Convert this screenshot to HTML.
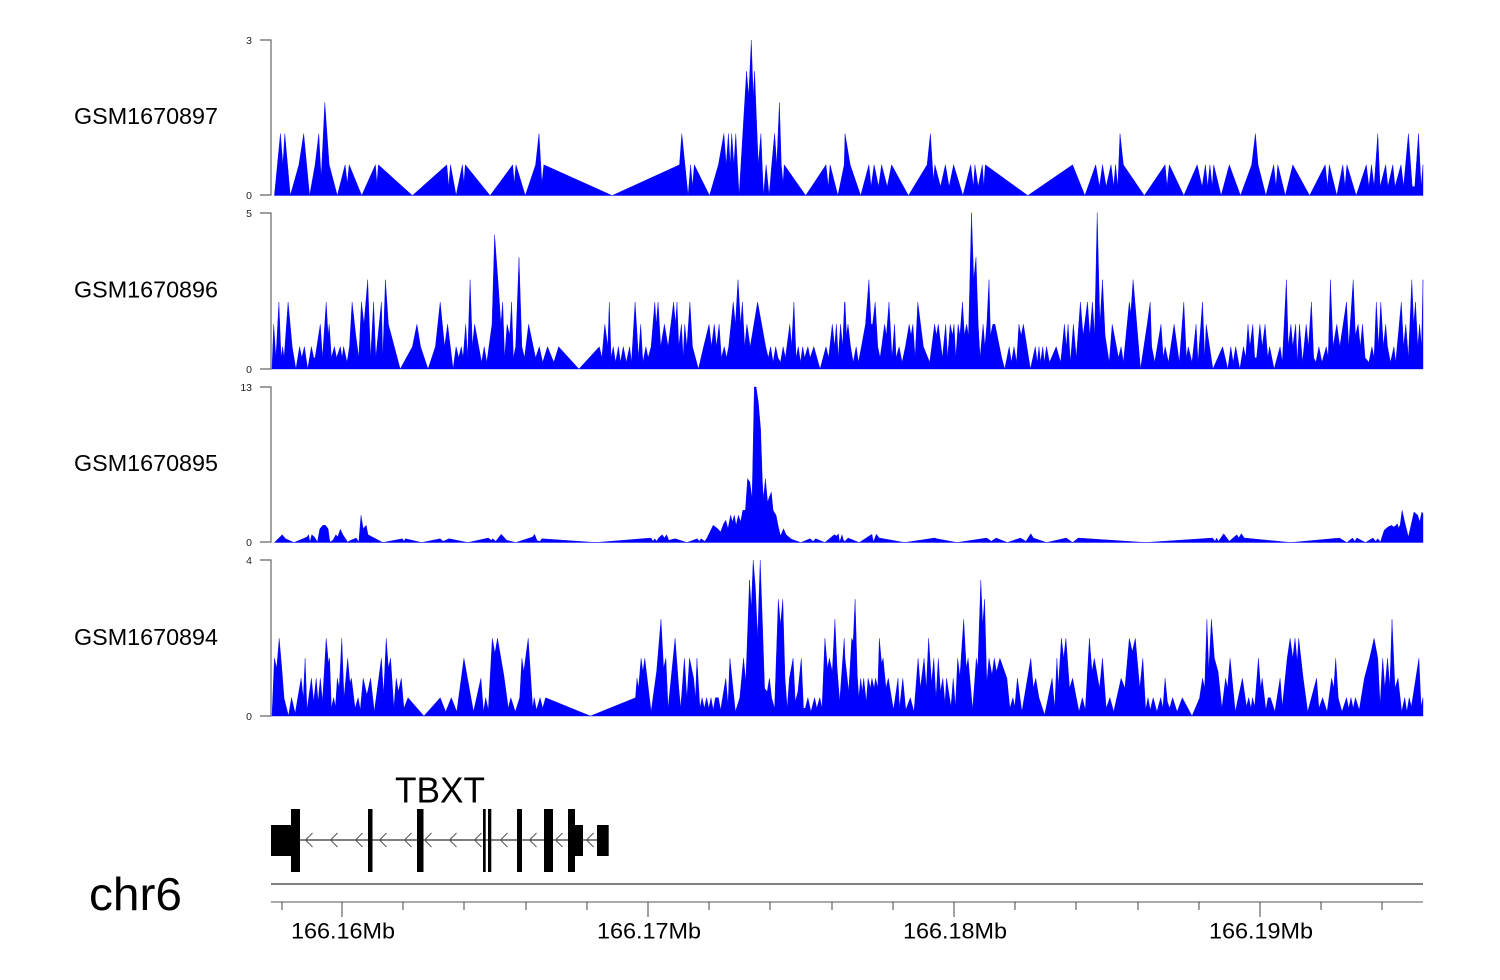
<!DOCTYPE html>
<html><head><meta charset="utf-8">
<style>
html,body{margin:0;padding:0;background:#fff;}
svg{display:block;}
text{font-family:"Liberation Sans",Arial,sans-serif;}
</style></head>
<body>
<svg id="s" width="1500" height="980" viewBox="0 0 1500 980" xmlns="http://www.w3.org/2000/svg">
<rect x="0" y="0" width="1500" height="980" fill="#fff"/>
<g id="tracks"></g>
<!-- track labels -->
<text x="74" y="124" font-size="23" textLength="144" lengthAdjust="spacingAndGlyphs" fill="#000">GSM1670897</text>
<text x="74" y="297.5" font-size="23" textLength="144" lengthAdjust="spacingAndGlyphs" fill="#000">GSM1670896</text>
<text x="74" y="471" font-size="23" textLength="144" lengthAdjust="spacingAndGlyphs" fill="#000">GSM1670895</text>
<text x="74" y="645" font-size="23" textLength="144" lengthAdjust="spacingAndGlyphs" fill="#000">GSM1670894</text>
<!-- y axes -->
<g stroke="#666" stroke-width="1.2" fill="none">
<polyline points="260,40 271,40 271,195 260,195"/>
<polyline points="260,213 271,213 271,369 260,369"/>
<polyline points="260,387 271,387 271,542 260,542"/>
<polyline points="260,560 271,560 271,716 260,716"/>
</g>
<g font-size="10.5" fill="#222" text-anchor="end">
<text x="252" y="44">3</text><text x="252" y="199">0</text>
<text x="252" y="217">5</text><text x="252" y="373">0</text>
<text x="252" y="391">13</text><text x="252" y="546">0</text>
<text x="252" y="564">4</text><text x="252" y="720">0</text>
</g>
<!-- gene model -->
<text x="440" y="802.5" font-size="36" text-anchor="middle" textLength="90" lengthAdjust="spacingAndGlyphs" fill="#000">TBXT</text>
<line x1="291" y1="840" x2="600" y2="840" stroke="#000" stroke-width="1"/>
<g id="chev" stroke="#555" stroke-width="1" fill="none"></g>
<g fill="#000">
<rect x="271" y="825" width="20" height="31"/>
<rect x="291" y="809" width="9" height="63"/>
<rect x="368" y="809" width="4.5" height="63"/>
<rect x="417" y="809" width="6.5" height="63"/>
<rect x="483" y="809" width="2.7" height="63"/>
<rect x="488" y="809" width="3.3" height="63"/>
<rect x="517" y="809" width="5" height="63"/>
<rect x="544" y="809" width="9" height="63"/>
<rect x="568" y="809" width="7" height="63"/>
<rect x="575" y="825" width="8" height="31"/>
<rect x="597" y="825" width="11.7" height="31"/>
</g>
<!-- chromosome line and axis -->
<line x1="271" y1="884" x2="1423" y2="884" stroke="#333" stroke-width="1.3"/>
<line x1="271" y1="902" x2="1423" y2="902" stroke="#777" stroke-width="1.2"/>
<g id="ticks" stroke="#444" stroke-width="1"></g>
<g font-size="22" fill="#000" text-anchor="middle">
<text x="343" y="938.5" textLength="104" lengthAdjust="spacingAndGlyphs">166.16Mb</text>
<text x="649" y="938.5" textLength="104" lengthAdjust="spacingAndGlyphs">166.17Mb</text>
<text x="955" y="938.5" textLength="104" lengthAdjust="spacingAndGlyphs">166.18Mb</text>
<text x="1261" y="938.5" textLength="104" lengthAdjust="spacingAndGlyphs">166.19Mb</text>
</g>
<text x="89" y="910" font-size="46" textLength="93" lengthAdjust="spacingAndGlyphs" fill="#000">chr6</text>
</svg>
<script>
(function(){
var NS="http://www.w3.org/2000/svg";
function lv(arr,unit){return arr.map(function(p){return [p[0],483-unit*p[1]];});}
var t1A=lv([[12,0],[28,2],[35,1],[40,2],[55,0],[78,1],[91,2],[107,0],[122,1],[132,2],[138,0.6],[140,1],[148,3],[160,1],[182,0],[203,1],[209,0.4],[214,1],[248,0],[285,1],[289,0.4],[293,1],[385,0],[478,1],[483,0.3],[488,1],[503,0],[520,1],[524,0.4],[528,1],[595,0],[656,1],[660,0.4],[665,1],[690,0],[718,1],[727,2],[735,0.4],[740,1],[925,0],[1107,1],[1113,2],[1130,0],[1137,1],[1142,0.3],[1147,1],[1188,0],[1212,1],[1227,2],[1233,1],[1239,2],[1244,1],[1248,2],[1254,1],[1259,2],[1268,0],[1288,4],[1294,3.2],[1301,5],[1306,3.2],[1310,4],[1320,1],[1327,2],[1334,0],[1341,1],[1349,0],[1356,1],[1364,2],[1370,1],[1377,3],[1382,1],[1387,0.4],[1390,1],[1448,0],[1503,1],[1509,0.3],[1514,1],[1535,0],[1552,1],[1558,2],[1568,1]],93.6);
var t1B=lv([[0,2],[14,1],[42,0],[64,1],[70,0.3],[78,1],[90,0.3],[98,1],[113,0.3],[125,1],[170,0],[220,1],[229,2],[237,0.5],[241,1],[256,0.3],[269,1],[279,0.3],[291,1],[316,0],[337,1],[344,0.3],[348,1],[357,0.3],[368,1],[372,0.3],[376,1],[490,0],[610,1],[643,0],[672,1],[682,0.3],[690,1],[700,0.3],[713,1],[720,0.3],[725,1],[731,0.3],[737,2],[746,1],[802,0],[858,1],[863,0.3],[869,1],[908,0],[944,1],[957,0.3],[966,1],[972,0.3],[978,1],[984,0.3],[988,1],[1008,0],[1030,1],[1060,0],[1090,1],[1100,2],[1107,1],[1128,0],[1149,1],[1155,0.3],[1160,1],[1180,0],[1200,1],[1245,0],[1287,1],[1293,0.3],[1298,1],[1318,0],[1334,1],[1340,0.3],[1345,1],[1370,0],[1397,1],[1404,0.3],[1411,1],[1418,0.3],[1428,2],[1434,0.3],[1449,1],[1455,0.3],[1468,1],[1474,0.3],[1490,1],[1497,0.3],[1510,2],[1520,0.3],[1527,0.3],[1537,2],[1544,0.3],[1549,1]],93.6);
var t2A=lv([[3,0],[10,2],[16,0.5],[24,3],[30,0.5],[34,1],[38,0.5],[49,3],[60,1],[70,0],[80,1],[86,0.5],[93,1],[102,0],[112,1],[118,0.5],[122,0.5],[136,2],[142,0.5],[152,3],[157,1.5],[160,2],[166,0.5],[174,1],[180,0.5],[190,1],[195,0.5],[199,1],[208,0.3],[215,1],[222,3],[232,1.5],[240,0.5],[247,3],[254,2],[264,4],[272,0.5],[280,3],[286,0.5],[301,3],[305,0.5],[312,4],[320,2],[352,0],[385,1],[397,2],[407,1],[427,0],[447,1],[460,3],[472,1],[480,2],[495,0],[503,1],[510,0.5],[517,1],[522,0.5],[529,2],[534,0.5],[541,4],[547,1],[553,2],[572,0.3],[579,1],[586,0.3],[600,2],[607,6],[616,4],[624,2],[629,3],[634,0.5],[641,2],[648,1.5],[653,3],[658,0.5],[664,1],[673,5],[681,1],[688,0.5],[699,2],[718,0.5],[728,1],[737,0.3],[750,1],[767,0.3],[780,1],[835,0],[890,1],[897,0.5],[905,2],[913,1],[917,3],[922,0.5],[928,1],[934,0.3],[942,1],[947,0.3],[955,1],[963,0.3],[972,1],[977,0.3],[987,3],[996,0.5],[1002,2],[1008,0.3],[1016,1],[1022,0.5],[1030,1],[1040,3],[1044,2],[1049,3],[1056,1],[1066,2],[1076,1],[1091,3],[1096,2],[1100,3],[1105,1],[1112,2],[1117,0.5],[1121,2],[1127,1],[1135,3],[1142,1],[1158,0],[1172,1],[1187,2],[1193,1],[1201,2],[1207,1],[1214,2],[1220,0.5],[1228,1],[1234,0.5],[1240,1],[1246,2],[1252,3],[1258,2],[1265,4],[1272,2],[1277,3],[1283,1],[1289,2],[1298,1],[1318,3],[1340,1],[1347,0.5],[1353,1],[1360,0.3],[1367,1],[1373,0.5],[1380,0.3],[1387,1],[1393,0.5],[1405,2],[1410,1],[1416,3],[1422,0.5],[1428,1],[1434,0.3],[1440,1],[1445,0.5],[1454,1],[1460,0.5],[1470,1],[1487,0],[1503,1],[1510,0.5],[1520,2],[1526,1],[1531,2],[1536,0.5],[1542,2],[1548,1],[1553,3],[1560,1],[1566,2]],67);
var t2B=lv([[0,3],[4,1.5],[8,2],[15,1],[22,0.3],[30,1],[36,0.3],[44,1],[55,2],[64,4],[70,2],[74,2],[81,3],[88,1],[94,0.5],[98,1],[106,2],[111,1.5],[118,3],[126,0.5],[133,2],[137,0.5],[145,1],[153,0.3],[162,1],[172,2],[177,1.5],[182,2],[188,0.5],[195,3],[210,1],[227,0.3],[240,2],[245,1.5],[250,2],[261,0.5],[270,2],[275,0.5],[282,2],[288,1.5],[292,2],[297,0.5],[303,2],[308,1.5],[315,3],[320,1.5],[326,2],[331,1.5],[339,7],[345,4],[351,5],[357,2],[362,0.5],[370,2],[375,1],[380,2],[386,4],[390,1.5],[396,2],[402,2],[420,0.5],[428,0],[440,1],[446,0.3],[453,1],[460,0.3],[466,2],[472,1.5],[478,2],[497,0],[510,1],[515,0.3],[520,1],[524,0.3],[530,1],[534,0.3],[540,1],[548,0.3],[566,1],[578,0.3],[588,2],[593,1],[598,2],[604,0.3],[612,2],[620,0.5],[631,3],[638,1.5],[650,3],[656,1.5],[663,3],[669,1.5],[676,7],[683,2],[690,4],[697,1.5],[708,0.3],[716,2],[733,0.5],[740,1],[746,0.3],[762,3],[766,2.5],[772,4],[782,2],[792,0],[810,2],[818,3],[822,1],[830,0.3],[847,2],[853,0.5],[858,1],[867,0.3],[882,2],[896,0.3],[908,3],[915,0.5],[920,1],[930,0.3],[941,2],[946,0.3],[958,3],[964,0.5],[968,2],[986,0],[1012,1],[1026,0],[1034,1],[1040,0.3],[1047,1],[1058,0],[1068,1],[1074,0.5],[1080,2],[1085,1],[1093,2],[1098,0.5],[1103,0.5],[1112,2],[1118,1],[1126,2],[1133,0.5],[1138,1],[1150,0],[1166,1],[1172,0.3],[1183,4],[1188,1],[1195,2],[1200,1],[1208,2],[1212,0.3],[1218,2],[1226,0.3],[1236,2],[1242,1],[1250,3],[1256,0.5],[1262,0.3],[1270,1],[1278,0.3],[1290,1],[1295,0.5],[1301,4],[1308,1],[1318,2],[1326,1],[1344,3],[1350,1],[1362,4],[1368,1.5],[1375,2],[1381,1],[1387,2],[1394,0.5],[1404,0.3],[1412,1],[1418,0.5],[1424,3],[1430,1],[1436,3],[1443,1],[1449,2],[1454,1],[1462,0.3],[1471,1],[1476,0.3],[1491,3],[1497,1],[1503,2],[1510,0.5],[1519,4],[1524,2],[1529,3],[1535,1],[1540,2],[1545,1],[1549,4]],67);
var t3A=[[12,483],[33,458],[42,470],[65,483],[100,465],[104,458],[108,480],[113,458],[120,465],[128,480],[135,440],[143,430],[150,430],[157,440],[162,480],[170,475],[178,458],[183,465],[190,442],[197,458],[210,480],[218,475],[233,468],[240,480],[246,400],[252,440],[260,430],[265,458],[305,483],[358,470],[362,478],[366,470],[410,483],[460,470],[468,478],[484,470],[535,483],[590,468],[598,475],[602,470],[610,478],[625,457],[640,475],[664,483],[710,465],[715,457],[722,476],[730,478],[735,470],[880,483],[1030,468],[1035,478],[1040,470],[1045,478],[1050,468],[1060,458],[1066,468],[1072,458],[1078,475],[1095,470],[1127,483],[1155,470],[1160,478],[1165,470],[1175,478],[1180,470],[1198,430],[1210,440],[1218,450],[1226,425],[1232,415],[1238,440],[1245,400],[1250,420],[1255,400],[1260,430],[1266,400],[1272,420],[1278,385],[1285,385],[1291,290],[1297,300],[1303,350],[1309,15],[1314,15],[1320,60],[1326,140],[1331,300],[1334,350],[1339,290],[1345,360],[1350,345],[1355,330],[1360,385],[1368,400],[1373,430],[1380,462],[1388,440],[1395,458],[1410,472],[1435,483],[1460,470],[1468,478],[1475,470],[1500,483],[1525,458],[1532,462],[1536,455],[1540,480],[1546,458],[1550,475],[1568,470]];
var t3B=[[0,478],[8,468],[38,483],[72,457],[76,480],[84,457],[92,468],[160,483],[240,468],[246,470],[300,483],[380,468],[392,478],[405,468],[435,483],[470,468],[485,478],[498,455],[505,468],[540,483],[593,468],[610,483],[625,468],[805,483],[985,468],[992,478],[996,468],[1001,478],[1015,455],[1030,478],[1050,458],[1055,468],[1062,455],[1070,468],[1195,483],[1325,468],[1345,483],[1360,468],[1366,478],[1372,468],[1395,483],[1415,468],[1422,478],[1428,470],[1435,480],[1445,445],[1455,435],[1465,430],[1470,435],[1475,432],[1480,425],[1484,438],[1488,428],[1493,385],[1500,420],[1510,465],[1525,390],[1535,400],[1540,420],[1546,390],[1549,395]];
var t4A=[[5,483],[12,310],[18,340],[25,250],[32,340],[38,430],[50,483],[58,428],[68,475],[84,370],[90,430],[95,310],[100,465],[112,370],[118,440],[125,370],[130,440],[136,370],[142,440],[152,250],[158,325],[161,310],[166,460],[172,428],[177,455],[182,370],[187,400],[194,250],[200,430],[210,310],[216,385],[220,370],[230,460],[238,428],[244,465],[252,370],[262,420],[272,370],[282,470],[301,310],[307,420],[314,250],[320,340],[326,310],[335,460],[341,370],[347,410],[355,370],[362,460],[373,428],[416,483],[460,428],[475,470],[490,428],[505,470],[524,310],[550,470],[570,370],[577,470],[583,428],[590,465],[601,250],[608,295],[615,250],[632,360],[644,460],[651,428],[663,470],[675,428],[681,310],[686,350],[698,250],[710,460],[714,428],[720,465],[730,428],[737,460],[745,428],[866,483],[988,428],[992,370],[996,400],[1003,310],[1008,350],[1013,310],[1030,470],[1045,350],[1057,193],[1064,340],[1070,310],[1076,460],[1095,250],[1105,400],[1110,460],[1120,310],[1127,430],[1134,310],[1145,370],[1150,430],[1154,310],[1162,460],[1168,428],[1174,460],[1180,428],[1186,460],[1192,428],[1198,465],[1204,428],[1212,428],[1218,465],[1232,370],[1238,450],[1243,310],[1258,470],[1270,428],[1280,310],[1286,380],[1296,75],[1301,160],[1306,15],[1312,100],[1318,250],[1325,15],[1331,200],[1337,400],[1344,410],[1350,370],[1356,430],[1364,460],[1374,133],[1380,210],[1386,133],[1392,370],[1398,460],[1404,370],[1414,310],[1420,440],[1427,410],[1436,310],[1442,460],[1447,460],[1454,428],[1462,470],[1472,428],[1478,460],[1486,428],[1492,460],[1500,250],[1507,340],[1512,310],[1520,350],[1527,193],[1533,340],[1540,440],[1552,250],[1565,410]];
var t4B=[[0,310],[10,410],[18,250],[22,260],[27,133],[33,360],[37,428],[42,370],[46,410],[50,370],[57,440],[62,370],[68,400],[72,370],[78,400],[82,370],[88,400],[92,250],[98,325],[102,310],[110,400],[116,370],[130,465],[142,370],[146,460],[155,370],[163,465],[175,428],[185,470],[196,310],[202,400],[212,310],[218,400],[224,250],[232,385],[238,310],[244,430],[250,310],[256,410],[262,370],[268,445],[272,370],[284,455],[290,370],[296,455],[302,310],[308,365],[318,193],[325,340],[330,310],[342,465],[352,310],[356,340],[364,75],[369,210],[374,133],[380,385],[386,310],[394,360],[400,310],[406,350],[415,310],[434,370],[442,460],[450,428],[455,455],[462,370],[474,470],[498,310],[505,400],[511,370],[520,428],[535,480],[555,370],[562,460],[568,310],[572,395],[580,250],[586,310],[592,250],[602,400],[610,370],[620,428],[627,470],[636,428],[644,465],[655,250],[662,350],[668,310],[682,400],[690,310],[700,460],[710,428],[720,470],[740,370],[750,400],[762,250],[770,290],[778,250],[790,400],[798,310],[806,465],[812,428],[818,465],[826,428],[836,470],[846,428],[852,460],[858,370],[864,440],[870,460],[878,428],[890,470],[904,428],[930,483],[950,430],[958,370],[964,400],[970,193],[975,348],[982,193],[990,310],[1000,350],[1010,460],[1020,370],[1025,400],[1032,310],[1046,470],[1065,370],[1076,455],[1082,428],[1088,460],[1092,428],[1098,455],[1108,310],[1114,400],[1118,370],[1128,465],[1134,428],[1140,428],[1152,470],[1166,370],[1172,455],[1185,310],[1193,250],[1200,310],[1206,250],[1212,320],[1216,250],[1228,370],[1240,470],[1264,370],[1270,460],[1280,428],[1292,470],[1304,370],[1310,400],[1315,310],[1322,430],[1332,470],[1344,428],[1350,460],[1356,428],[1362,460],[1368,428],[1378,465],[1392,370],[1406,310],[1418,250],[1428,310],[1434,450],[1441,310],[1447,400],[1454,310],[1460,395],[1466,193],[1474,400],[1482,370],[1492,470],[1500,428],[1506,470],[1512,428],[1518,455],[1538,310],[1544,455],[1549,428]];

var g=document.getElementById("tracks");
function track(A,B,yTop,base){
  var pts=[];
  A.forEach(function(p){var x=270+p[0]/2.703;if(x<845)pts.push([x,p[1]]);});
  B.forEach(function(p){pts.push([845+p[0]/2.68,p[1]]);});
  var d="M"+Math.max(272,pts[0][0]).toFixed(1)+","+base;
  pts.forEach(function(p){
    var x=Math.min(1423,Math.max(272,p[0]));
    var y=Math.min(base,yTop+p[1]/3);
    d+=" L"+x.toFixed(1)+","+y.toFixed(1);
  });
  d+=" L"+Math.min(1423,pts[pts.length-1][0]).toFixed(1)+","+base+" Z";
  var path=document.createElementNS(NS,"path");
  path.setAttribute("d",d);path.setAttribute("fill","#0000ff");
  path.setAttribute("stroke","#0000ee");path.setAttribute("stroke-width","0.4");
  g.appendChild(path);
}
track(t1A,t1B,35,195.5);
track(t2A,t2B,208,369);
track(t3A,t3B,382,542.5);
track(t4A,t4B,555,716);

var ch=document.getElementById("chev");
[309,334,359,383,408,428,453,478,504,533,559,590].forEach(function(x){
  var pl=document.createElementNS(NS,"polyline");
  pl.setAttribute("points",(x+3.5)+",833 "+(x-3.5)+",840 "+(x+3.5)+",847");
  ch.appendChild(pl);
});
var tk=document.getElementById("ticks");
[282,342,403,464,526,587,648,709,770,832,893,954,1015,1076,1138,1199,1260,1321,1382].forEach(function(x){
  var major=(x===342||x===648||x===954||x===1260);
  var l=document.createElementNS(NS,"line");
  l.setAttribute("x1",x);l.setAttribute("x2",x);
  l.setAttribute("y1",902);l.setAttribute("y2",major?917:910);
  tk.appendChild(l);
});
})();
</script>
</body></html>
